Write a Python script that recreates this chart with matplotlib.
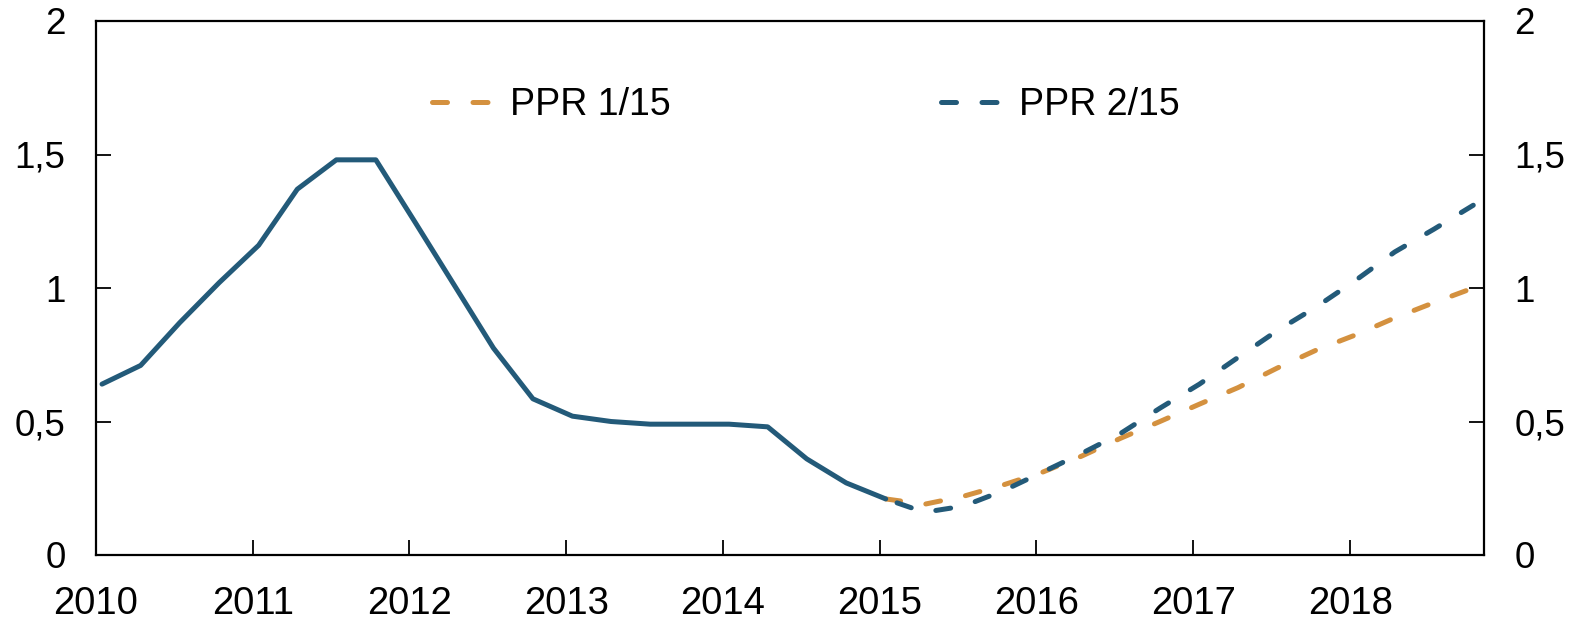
import numpy as np
import pandas as pd
import matplotlib
matplotlib.use("Agg")
import matplotlib.pyplot as plt
from matplotlib.lines import Line2D

plt.rcParams["font.family"] = ["Liberation Sans", "DejaVu Sans"]

# ---- data (quarterly) ----
hist_start = "2010Q1"
hist = [0.64, 0.71, 0.87, 1.02, 1.16, 1.37, 1.48, 1.48,
        1.245, 1.01, 0.775, 0.585, 0.52, 0.50, 0.49, 0.49,
        0.49, 0.48, 0.36, 0.27, 0.21]
proj_start = "2015Q1"
ppr_1_15 = [0.21, 0.19, 0.22, 0.262, 0.31, 0.37, 0.437, 0.50,
            0.565, 0.627, 0.70, 0.768, 0.825, 0.888, 0.945, 1.00]
ppr_2_15 = [0.21, 0.16, 0.183, 0.24, 0.31, 0.38, 0.455, 0.55,
            0.64, 0.74, 0.84, 0.93, 1.03, 1.135, 1.22, 1.31]
labels = ["PPR 1/15", "PPR 2/15"]
years = list(range(2010, 2019))
yticks = [0, 0.5, 1, 1.5, 2]
ytick_labels = ["0", "0,5", "1", "1,5", "2"]

BLUE = "#235A79"
ORANGE = "#D4913F"


def qdates(start, n):
    # points sit mid-month of each quarter's first month
    return pd.period_range(start, periods=n, freq="Q").to_timestamp() + pd.Timedelta(days=14)


x_hist = qdates(hist_start, len(hist))
x_proj = qdates(proj_start, len(ppr_1_15))

fig = plt.figure(figsize=(15.8, 6.17), dpi=100)
ax = fig.add_axes([96 / 1580, 1 - 555 / 617, (1484 - 96) / 1580, (555 - 21) / 617])

lw = 3.6
dash = (3.0, 5.1)
ax.plot(x_proj, ppr_1_15, color=ORANGE, lw=lw, ls=(0, dash),
        dash_capstyle="round", zorder=2)
ax.plot(x_proj, ppr_2_15, color=BLUE, lw=lw, ls=(5.7, dash),
        dash_capstyle="round", zorder=3)
ax.plot(x_hist, hist, color=BLUE, lw=lw, solid_capstyle="round", zorder=4)

ax.set_xlim(pd.Timestamp("2010-01-01"), pd.Timestamp("2018-11-09"))
ax.set_ylim(0, 2)

ax.set_xticks([pd.Timestamp(f"{y}-01-01") for y in years])
ax.set_xticklabels([str(y) for y in years])
ax.set_yticks(yticks)
ax.set_yticklabels(ytick_labels)

ax.tick_params(axis="y", which="both", direction="in", length=11, width=1.3,
               labelsize=26.5, pad=22, left=True, right=True,
               labelleft=True, labelright=True)
ax.tick_params(axis="x", direction="in", length=11, width=1.3,
               labelsize=27.5, pad=22)
for s in ax.spines.values():
    s.set_linewidth(1.6)

handles = [Line2D([], [], color=c, lw=lw, ls=(0, dash), dash_capstyle="round")
           for c in (ORANGE, BLUE)]
leg = ax.legend(handles, labels, loc="center left",
                bbox_to_anchor=(432 / 1580, 1 - 105 / 617),
                bbox_transform=fig.transFigure, ncol=2, frameon=False,
                fontsize=27, handlelength=1.63, handletextpad=0.45,
                columnspacing=7.2, borderpad=0, borderaxespad=0)

fig.savefig("out.png", dpi=100)
